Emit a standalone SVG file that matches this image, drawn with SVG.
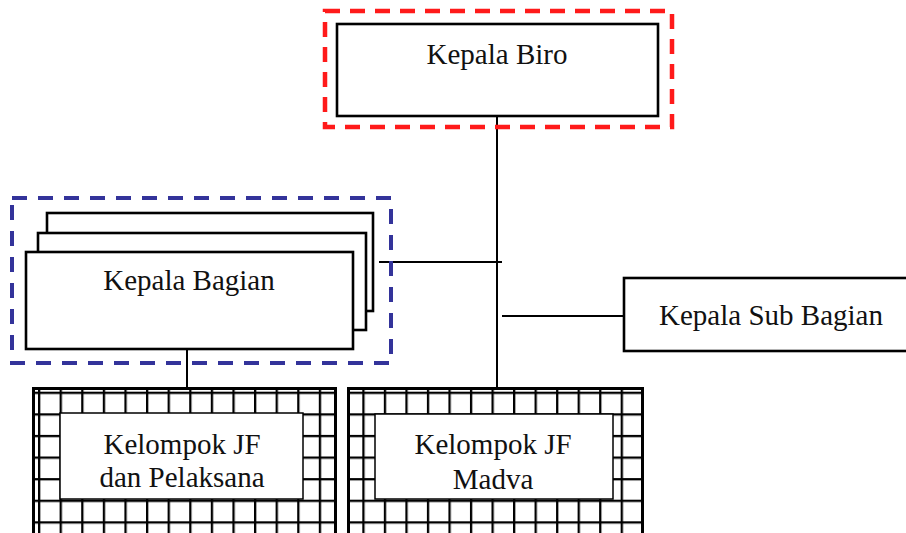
<svg xmlns="http://www.w3.org/2000/svg" width="906" height="533" viewBox="0 0 906 533">
<defs>
<style>
.box{fill:#fff;stroke:#000;stroke-width:2.6}
.inner{fill:#fff;stroke:#000;stroke-width:1.5}
.lbl{font-family:"Liberation Serif","Times New Roman",serif;font-size:29px;fill:#111;text-anchor:middle}
.con{stroke:#000;stroke-width:2;fill:none}
.red{fill:none;stroke:#ff1a1a;stroke-width:4.5;stroke-dasharray:15 10}
.blue{fill:none;stroke:#33339a;stroke-width:4;stroke-dasharray:15 11}
</style>
<pattern id="gridL" patternUnits="userSpaceOnUse" x="38" y="391.7" width="21.6" height="21.6">
<rect width="21.6" height="21.6" fill="#fff"/>
<rect width="2.3" height="21.6" fill="#000"/>
<rect width="21.6" height="2.3" fill="#000"/>
</pattern>
<pattern id="gridR" patternUnits="userSpaceOnUse" x="362.3" y="391.7" width="21.53" height="21.6">
<rect width="21.53" height="21.6" fill="#fff"/>
<rect width="2.3" height="21.6" fill="#000"/>
<rect width="21.53" height="2.3" fill="#000"/>
</pattern>
</defs>
<rect width="906" height="533" fill="#fff"/>

<g id="connectors">
<line class="con" x1="497" y1="109" x2="497" y2="390"/>
<line class="con" x1="379" y1="262" x2="502" y2="262"/>
<line class="con" x1="502" y1="316" x2="624" y2="316"/>
<line class="con" x1="187" y1="349" x2="187" y2="390"/>
</g>

<g id="kepala-biro">
<rect class="red" x="325" y="11" width="347" height="116"/>
<rect class="box" x="337" y="24" width="321" height="92"/>
<text class="lbl" x="497" y="64">Kepala Biro</text>
</g>

<g id="kepala-bagian">
<rect class="blue" x="12" y="198" width="379" height="165"/>
<rect class="box" x="47" y="213" width="326" height="98"/>
<rect class="box" x="38" y="233" width="328" height="97"/>
<rect class="box" x="26" y="252" width="327" height="97"/>
<text class="lbl" x="189" y="290">Kepala Bagian</text>
</g>

<g id="kepala-sub-bagian">
<rect class="box" x="624" y="278" width="290" height="73"/>
<text class="lbl" x="771" y="325">Kepala Sub Bagian</text>
</g>

<g id="kelompok-jf-pelaksana">
<rect x="33.5" y="388.5" width="302" height="160" fill="url(#gridL)" stroke="#000" stroke-width="3"/>
<rect class="inner" x="60" y="413" width="243" height="86"/>
<text class="lbl" x="182" y="454">Kelompok JF</text>
<text class="lbl" x="182" y="487">dan Pelaksana</text>
</g>

<g id="kelompok-jf-madya">
<rect x="348.5" y="388.5" width="294" height="160" fill="url(#gridR)" stroke="#000" stroke-width="3"/>
<rect class="inner" x="375" y="414" width="238" height="85"/>
<text class="lbl" x="493" y="454">Kelompok JF</text>
<text class="lbl" x="493" y="489">Madva</text>
</g>
</svg>
